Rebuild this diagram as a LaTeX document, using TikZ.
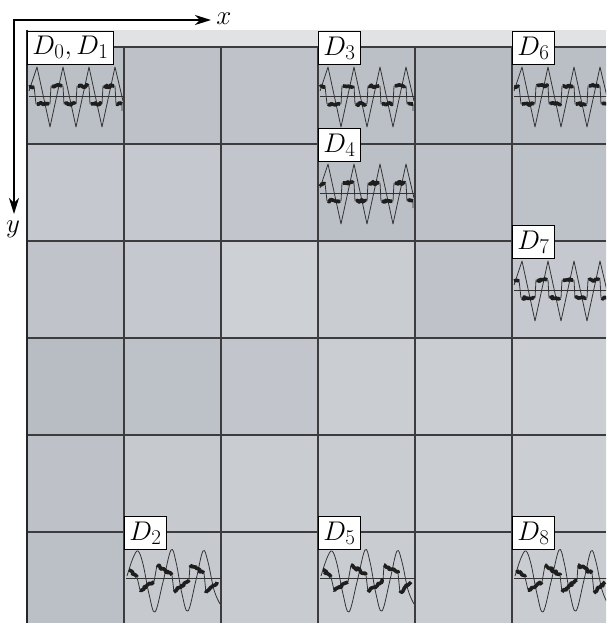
\RequirePackage{fix-cm}
\documentclass[tikz,border=0pt]{standalone}
\DeclareMathSizes{27}{27}{21}{16}
\usetikzlibrary{arrows.meta,decorations.pathmorphing}
\definecolor{cellhi}{RGB}{207,210,214}
\definecolor{celllo}{RGB}{184,189,196}
\definecolor{bandgray}{RGB}{225,226,228}
\definecolor{gridgray}{RGB}{60,60,62}
\definecolor{traceblack}{RGB}{30,30,30}
\tikzset{dlabel/.style={draw=black, fill=white, line width=0.9pt, anchor=north west,
             inner xsep=5pt, inner ysep=0pt, minimum height=33pt,
             font=\fontsize{27}{27}\selectfont},
         gridline/.style={draw=gridgray, line width=1.1pt},
         axis/.style={line width=1.8pt,
             {Stealth[length=16pt,width=10pt,inset=5pt]}-{Stealth[length=16pt,width=10pt,inset=5pt]}},
         thin trace/.style={draw=black!80, line width=0.8pt, line join=round},
         thick trace/.style={draw=traceblack, line width=3.6pt, line join=round, decorate,
             decoration={random steps, segment length=1.5pt, amplitude=1.3pt}},
         sigtop/.pic={
           \draw[thin trace] (2,49) -- (97,49);
           \draw[thin trace] (2,44) -- (10,20) -- (23,80) -- (36,20) -- (49,80) -- (62,20)
             -- (75,80) -- (88,20) -- (96,54);
           \draw[thin trace] (2,39) -- (7,39) -- (9,57) -- (23,57) -- (24,39) -- (36,39) -- (37,57)
             -- (49,57) -- (50,39) -- (62,39) -- (63,57) -- (75,57) -- (76,39) -- (88,39)
             -- (89,57) -- (95,57) -- (95,64);
           \foreach \a/\b/\v in {2/7/40, 10/22/57, 25/35/39, 38/48/57, 51/61/39, 64/74/57, 77/87/39, 90/95/57}
             \draw[thick trace] (\a,\v) -- (\b,\v);
         },
         sigbot/.pic={
           \draw[thin trace] (2,46) -- (97,46);
           \draw[thin trace] plot[smooth, tension=0.6] coordinates {(3,44) (9,26) (14,19) (19,32)
             (25,62) (31,80) (39,50) (47,18) (52,30) (58,62) (64,79) (72,48) (79,19) (84,30)
             (90,58) (96,72)};
           \draw[thin trace] (13,45) -- (16,58) (30,50) -- (33,33) (48,43) -- (50,60)
             (65,48) -- (66,33) (80,41) -- (82,61);
           \foreach \a/\p/\b/\q in {5/38/13/45, 16/58/30/50, 33/33/48/43, 50/60/65/48, 66/33/80/41, 82/61/93/50}
             \draw[thick trace] (\a,\p) -- (\b,\q);
         }}

\begin{document}
\begin{tikzpicture}[x=1pt, y=-1pt]
  \useasboundingbox (0,0) rectangle (606,623);
  \pgfmathsetseed{7}
  \begin{scope}
    \clip (0,0) rectangle (606,623);
    % cells
    \fill[bandgray] (27,30) rectangle (606,47);
    \foreach \r/\shades in {0/{85,75,70,85,100,90}, 1/{45,45,55,85,75,80}, 2/{65,45,10,25,70,45},
                            3/{100,80,55,20,20,15}, 4/{75,40,25,25,20,15}, 5/{85,40,30,25,25,25}}
      \foreach \s [count=\c from 0] in \shades
        \fill[celllo!\s!cellhi] ({27+97*\c},{47+97*\r}) rectangle +(97,97);
    \foreach \c in {1,...,5}
      \draw[gridline] ({27+97*\c},47) -- ({27+97*\c},623);
    \foreach \r in {0,...,5}
      \draw[gridline] (27,{47+97*\r}) -- (606,{47+97*\r});
    \draw[draw=black!85, line width=1.6pt] (27,30) -- (27,623);
    % traces
    \pic at (27,47) {sigtop};
    \pic at (318,47) {sigtop};
    \pic at (512,47) {sigtop};
    \pic at (318,144) {sigtop};
    \pic at (512,241) {sigtop};
    \pic at (124,532) {sigbot};
    \pic at (318,532) {sigbot};
    \pic at (512,532) {sigbot};
  \end{scope}
  % labels
  \node[dlabel] (lab01) at (27,31) {$D_0, D_1$};
  \node[dlabel] (lab3) at (318,31) {$D_3$};
  \node[dlabel] (lab6) at (512,31) {$D_6$};
  \node[dlabel] (lab4) at (318,128) {$D_4$};
  \node[dlabel] (lab7) at (512,225) {$D_7$};
  \node[dlabel] (lab2) at (124,516) {$D_2$};
  \node[dlabel] (lab5) at (318,516) {$D_5$};
  \node[dlabel] (lab8) at (512,516) {$D_8$};
  % axes
  \coordinate (orig) at (14,20);
  \coordinate (xtip) at (211,20);
  \coordinate (ytip) at (14,214);
  \draw[axis] (xtip) -- (orig) -- (ytip);
  \node[inner sep=0pt, font=\fontsize{27}{27}\selectfont] (xlab) at (224,19) {$x$};
  \node[inner sep=0pt, font=\fontsize{27}{27}\selectfont] (ylab) at (13,229) {$y$};
\end{tikzpicture}
\end{document}
